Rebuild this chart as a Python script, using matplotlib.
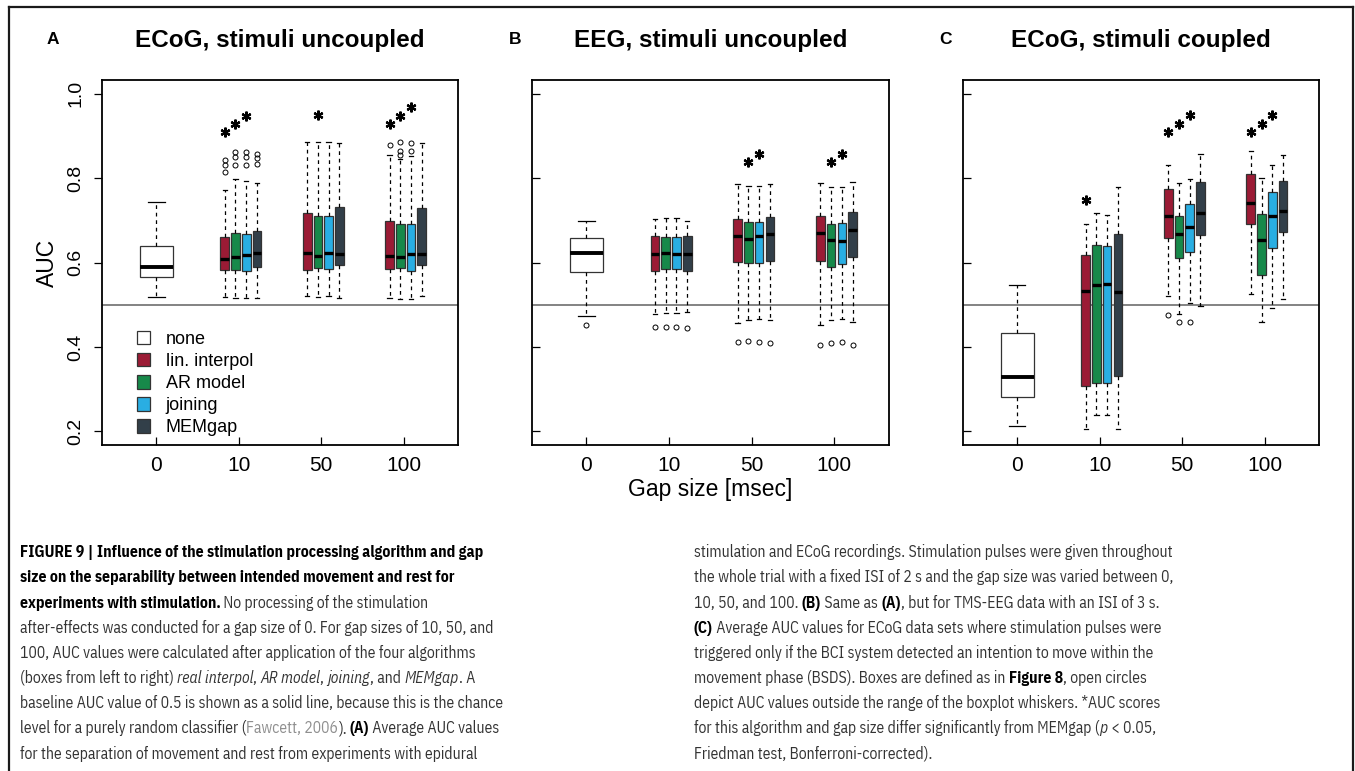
import matplotlib
matplotlib.use("Agg")
import matplotlib.pyplot as plt
from matplotlib.patches import Patch
from matplotlib.lines import Line2D
from matplotlib import font_manager as fm

# ---------------- data ----------------
gap_labels = ["0", "10", "50", "100"]
algorithms = ["none", "lin. interpol", "AR model", "joining", "MEMgap"]
alg_colors = ["white", "#9B1B35", "#17894A", "#29AEE3", "#323F49"]
titles = ["ECoG, stimuli uncoupled", "EEG, stimuli uncoupled", "ECoG, stimuli coupled"]
panel_letters = ["A", "B", "C"]

# five-number summaries: [whisker low, Q1, median, Q3, whisker high]
A_none = [0.519, 0.565, 0.589, 0.640, 0.743]
A_gap10 = [[0.518, 0.583, 0.609, 0.660, 0.771], [0.516, 0.583, 0.613, 0.671, 0.797],
           [0.516, 0.581, 0.617, 0.668, 0.792], [0.517, 0.589, 0.623, 0.675, 0.788]]
A_gap50 = [[0.521, 0.582, 0.623, 0.718, 0.885], [0.518, 0.588, 0.615, 0.709, 0.886],
           [0.521, 0.585, 0.623, 0.711, 0.886], [0.517, 0.594, 0.621, 0.731, 0.882]]
A_gap100 = [[0.517, 0.585, 0.615, 0.699, 0.855], [0.513, 0.588, 0.613, 0.691, 0.844],
            [0.514, 0.581, 0.621, 0.692, 0.852], [0.521, 0.595, 0.619, 0.728, 0.882]]
A_out_none = []
A_out10 = [[0.842, 0.830, 0.814], [0.862, 0.850, 0.830], [0.862, 0.850, 0.830], [0.858, 0.848, 0.832]]
A_out50 = [[], [], [], []]
A_out100 = [[0.878], [0.885, 0.864, 0.855], [0.883, 0.864], []]
A_star_gap = [1, 1, 1, 2, 3, 3, 3]
A_star_alg = [0, 1, 2, 1, 0, 1, 2]
A_star_y = [0.909, 0.927, 0.947, 0.949, 0.927, 0.947, 0.967]

B_none = [0.474, 0.578, 0.622, 0.658, 0.698]
B_gap10 = [[0.477, 0.581, 0.619, 0.663, 0.702], [0.480, 0.584, 0.622, 0.661, 0.705],
           [0.480, 0.584, 0.621, 0.661, 0.705], [0.482, 0.581, 0.619, 0.663, 0.699]]
B_gap50 = [[0.457, 0.601, 0.662, 0.703, 0.785], [0.465, 0.598, 0.656, 0.695, 0.780],
           [0.466, 0.600, 0.662, 0.697, 0.782], [0.463, 0.603, 0.667, 0.707, 0.785]]
B_gap100 = [[0.453, 0.604, 0.669, 0.709, 0.788], [0.463, 0.589, 0.654, 0.691, 0.779],
            [0.466, 0.597, 0.652, 0.694, 0.779], [0.459, 0.613, 0.677, 0.720, 0.791]]
B_out_none = [0.452]
B_out10 = [[0.448], [0.448], [0.448], [0.445]]
B_out50 = [[0.412], [0.414], [0.412], [0.410]]
B_out100 = [[0.405], [0.409], [0.412], [0.405]]
B_star_gap = [2, 2, 3, 3]
B_star_alg = [1, 2, 1, 2]
B_star_y = [0.838, 0.858, 0.838, 0.858]

C_none = [0.213, 0.281, 0.330, 0.433, 0.546]
C_gap10 = [[0.207, 0.308, 0.533, 0.618, 0.690], [0.240, 0.315, 0.547, 0.641, 0.717],
           [0.240, 0.315, 0.550, 0.638, 0.713], [0.206, 0.332, 0.531, 0.667, 0.778]]
C_gap50 = [[0.521, 0.657, 0.709, 0.773, 0.831], [0.479, 0.610, 0.667, 0.711, 0.788],
           [0.504, 0.626, 0.683, 0.738, 0.797], [0.497, 0.666, 0.716, 0.790, 0.857]]
C_gap100 = [[0.526, 0.691, 0.742, 0.809, 0.865], [0.459, 0.571, 0.654, 0.714, 0.801],
            [0.492, 0.635, 0.711, 0.766, 0.831], [0.514, 0.672, 0.721, 0.792, 0.855]]
C_out_none = []
C_out10 = [[], [], [], []]
C_out50 = [[0.476], [0.458], [0.458], []]
C_out100 = [[], [], [], []]
C_star_gap = [1, 2, 2, 2, 3, 3, 3]
C_star_alg = [0, 0, 1, 2, 0, 1, 2]
C_star_y = [0.749, 0.908, 0.927, 0.949, 0.908, 0.927, 0.949]

chance_level = 0.5
y_ticks = [0.2, 0.4, 0.6, 0.8, 1.0]

caption_left = [
    [("FIGURE 9 | Influence of the stimulation processing algorithm and gap", "b")],
    [("size on the separability between intended movement and rest for", "b")],
    [("experiments with stimulation.", "b"), (" No processing of the stimulation", "n")],
    [("after-effects was conducted for a gap size of 0. For gap sizes of 10, 50, and", "n")],
    [("100, AUC values were calculated after application of the four algorithms", "n")],
    [("(boxes from left to right) ", "n"), ("real interpol", "i"), (", ", "n"), ("AR model", "i"),
     (", ", "n"), ("joining", "i"), (", and ", "n"), ("MEMgap", "i"), (". A", "n")],
    [("baseline AUC value of 0.5 is shown as a solid line, because this is the chance", "n")],
    [("level for a purely random classifier (", "n"), ("Fawcett, 2006", "g"), ("). ", "n"),
     ("(A)", "b"), (" Average AUC values", "n")],
    [("for the separation of movement and rest from experiments with epidural", "n")],
]
caption_right = [
    [("stimulation and ECoG recordings. Stimulation pulses were given throughout", "n")],
    [("the whole trial with a fixed ISI of 2 s and the gap size was varied between 0,", "n")],
    [("10, 50, and 100. ", "n"), ("(B)", "b"), (" Same as ", "n"), ("(A)", "b"),
     (", but for TMS-EEG data with an ISI of 3 s.", "n")],
    [("(C)", "b"), (" Average AUC values for ECoG data sets where stimulation pulses were", "n")],
    [("triggered only if the BCI system detected an intention to move within the", "n")],
    [("movement phase (BSDS). Boxes are defined as in ", "n"), ("Figure 8", "b"), (", open circles", "n")],
    [("depict AUC values outside the range of the boxplot whiskers. *AUC scores", "n")],
    [("for this algorithm and gap size differ significantly from MEMgap (", "n"), ("p", "i"),
     (" < 0.05,", "n")],
    [("Friedman test, Bonferroni-corrected).", "n")],
]

# ---------------- layout ----------------
W, H = 1355, 771
plt.rcParams["font.family"] = ["Liberation Sans", "DejaVu Sans"]
fig = plt.figure(figsize=(W / 100, H / 100), dpi=100)


def rect(l, r, t, b):
    return [l / W, 1 - b / H, (r - l) / W, (b - t) / H]


axes_px = [(102, 458, 80, 445), (531.7, 889, 80, 445), (962.7, 1319.3, 80, 445)]
offsets = [-0.17, -0.04, 0.09, 0.22]
edge_col = "#333333"

panels = [
    (A_none, [A_gap10, A_gap50, A_gap100], A_out_none, [A_out10, A_out50, A_out100],
     A_star_gap, A_star_alg, A_star_y),
    (B_none, [B_gap10, B_gap50, B_gap100], B_out_none, [B_out10, B_out50, B_out100],
     B_star_gap, B_star_alg, B_star_y),
    (C_none, [C_gap10, C_gap50, C_gap100], C_out_none, [C_out10, C_out50, C_out100],
     C_star_gap, C_star_alg, C_star_y),
]


def to_stat(s, fl):
    return dict(whislo=s[0], q1=s[1], med=s[2], q3=s[3], whishi=s[4], fliers=fl)


axes = []
for pi, (none, groups, out_none, outs, sg, sa, sy) in enumerate(panels):
    ax = fig.add_axes(rect(*axes_px[pi]))
    axes.append(ax)
    ax.axhline(chance_level, color="#6e6e6e", lw=1.2, zorder=1)

    stats = [to_stat(none, out_none)]
    pos = [1.0]
    widths = [0.40]
    cols = [alg_colors[0]]
    for gi, grp in enumerate(groups):
        for ai, s in enumerate(grp):
            stats.append(to_stat(s, outs[gi][ai]))
            pos.append(gi + 2 + offsets[ai])
            widths.append(0.105)
            cols.append(alg_colors[ai + 1])

    bp = ax.bxp(stats, positions=pos, widths=widths, patch_artist=True, manage_ticks=False,
                boxprops=dict(edgecolor=edge_col, linewidth=0.9),
                medianprops=dict(color="black", linewidth=2.4, solid_capstyle="butt"),
                whiskerprops=dict(color="black", linewidth=0.9, linestyle=(0, (3.0, 3.0))),
                capprops=dict(color="black", linewidth=0.9),
                flierprops=dict(marker="o", markersize=3.6, markerfacecolor="none",
                                markeredgecolor="black", markeredgewidth=0.7, linestyle="none"))
    for patch, c in zip(bp["boxes"], cols):
        patch.set_facecolor(c)
    bp["medians"][0].set_linewidth(2.8)

    sx = [g + 1 + offsets[a] for g, a in zip(sg, sa)]
    ax.plot(sx, sy, linestyle="none", marker=(6, 2, 0), markersize=7,
            markeredgewidth=1.6, color="black")

    ax.set_xlim(0.34, 4.66)
    ax.set_ylim(0.168, 1.032)
    ax.set_xticks([1, 2, 3, 4])
    ax.set_xticklabels(gap_labels)
    ax.set_yticks(y_ticks)
    for sp in ax.spines.values():
        sp.set_linewidth(1.3)
        sp.set_color("black")
    ax.tick_params(axis="x", direction="in", length=5.5, width=0.9, labelsize=15, pad=8)
    if pi == 0:
        ax.tick_params(axis="y", direction="out", length=5.5, width=0.9, labelsize=14, pad=7)
        ax.set_yticklabels(["0.2", "0.4", "0.6", "0.8", "1.0"], rotation=90, va="center")
    else:
        ax.tick_params(axis="y", direction="in", length=5.5, width=0.9, labelleft=False)

    l, r, t, b = axes_px[pi]
    fig.text(((l + r) / 2) / W, 1 - 40 / H, titles[pi], ha="center", va="center",
             fontsize=17.5, fontweight="bold")

for x, letter in zip([53, 515, 946], panel_letters):
    fig.text(x / W, 1 - 40 / H, letter, ha="center", va="center", fontsize=12.5, fontweight="bold")

fig.text(47 / W, 1 - 263 / H, "AUC", rotation=90, ha="center", va="center", fontsize=16.5)
fig.text(710 / W, 1 - 490 / H, "Gap size [msec]", ha="center", va="center", fontsize=16.5)

handles = [Patch(facecolor=c, edgecolor=edge_col, linewidth=0.9) for c in alg_colors]
axes[0].legend(handles, algorithms, loc="upper left", bbox_to_anchor=(0.098, 0.312),
               frameon=False, fontsize=13, handlelength=0.75, handleheight=0.75,
               handletextpad=0.85, labelspacing=0.28, borderpad=0, borderaxespad=0)

# figure frame
for xs, ys in [((9, 9), (7, 771)), ((9, 1353), (7, 7)), ((1353, 1353), (7, 771))]:
    fig.add_artist(Line2D([x / W for x in xs], [1 - y / H for y in ys],
                          transform=fig.transFigure, color="#1a1a1a", lw=1.6))

# ---------------- caption ----------------
def _w(f):
    w = f.weight
    if isinstance(w, str):
        w = {"bold": 700, "semibold": 600, "demibold": 600, "heavy": 800, "black": 900}.get(w, 400)
    return w


cap_family, cap_stretch = ["DejaVu Sans"], "condensed"
for cand in ["Liberation Sans Narrow", "IBM Plex Sans Condensed", "Roboto Condensed",
             "Fira Sans Condensed", "PT Sans Narrow", "Archivo Narrow"]:
    ents = [f for f in fm.fontManager.ttflist if f.name == cand]
    if ents and any(_w(f) >= 600 for f in ents) and any(f.style == "italic" for f in ents):
        cap_family, cap_stretch = [cand, "DejaVu Sans"], "normal"
        break

styles = {
    "n": dict(color="#333333"),
    "b": dict(color="black", fontweight="bold"),
    "i": dict(color="#333333", fontstyle="italic"),
    "g": dict(color="#8f8f8f"),
}
renderer = fig.canvas.get_renderer()


def measure(text, st, size):
    t1 = fig.text(0, 0, "|" + text + "|", fontsize=size, family=cap_family,
                  fontstretch=cap_stretch, **styles[st])
    t2 = fig.text(0, 0, "||", fontsize=size, family=cap_family,
                  fontstretch=cap_stretch, **styles[st])
    w = t1.get_window_extent(renderer).width - t2.get_window_extent(renderer).width
    t1.remove()
    t2.remove()
    return w


ref_w = sum(measure(tx, st, 10) for tx, st in caption_left[3])
cap_size = 10 * 474 / ref_w


def draw_line(x0, y0, runs):
    x = x0
    for tx, st in runs:
        fig.text(x / W, 1 - y0 / H, tx, fontsize=cap_size, family=cap_family,
                 fontstretch=cap_stretch, ha="left", va="baseline", **styles[st])
        x += measure(tx, st, cap_size)


for k, runs in enumerate(caption_left):
    draw_line(19.5, 557.3 + 25.15 * k, runs)
for k, runs in enumerate(caption_right):
    draw_line(694, 557.3 + 25.15 * k, runs)

fig.savefig("out.png", dpi=100)
